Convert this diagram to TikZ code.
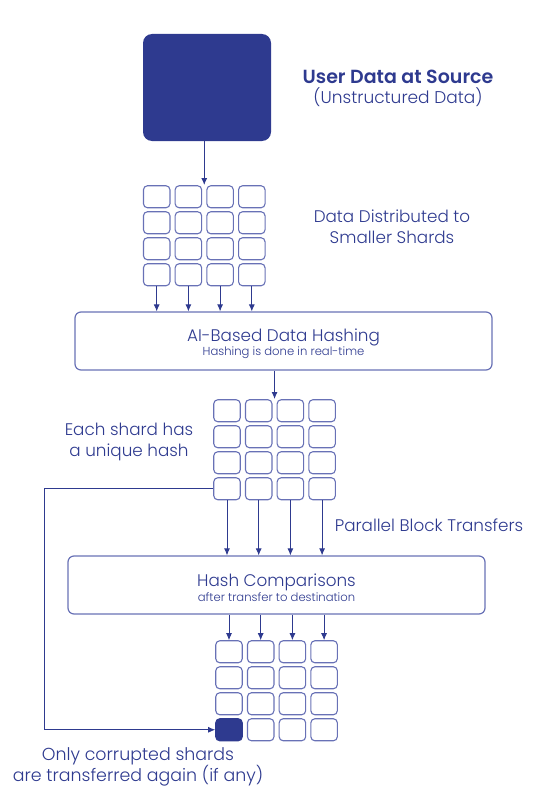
\documentclass[tikz,border=0pt]{standalone}
\usepackage{fontspec}
\setmainfont{Poppins}[UprightFont=* Light, BoldFont=* SemiBold]
\usetikzlibrary{matrix, arrows.meta, positioning}
\definecolor{navy}{RGB}{46,58,143}
\definecolor{edgeblue}{RGB}{104,113,182}

\tikzset{
  shard/.style={draw=edgeblue, line width=1.1pt, rounded corners=4pt,
    minimum width=26.5pt, minimum height=22pt, inner sep=0pt},
  bad/.style={fill=navy, draw=navy},
  shardgrid/.style={matrix of nodes, nodes={shard}, nodes in empty cells,
    column sep=4.1pt, row sep=2.9pt, anchor=north west, inner sep=0pt},
  stage/.style={draw=edgeblue, line width=1.2pt, rounded corners=6pt,
    minimum width=417pt, minimum height=58pt},
  heading/.style={text=navy, font=\fontsize{16.8}{19}\selectfont},
  subhead/.style={text=navy, font=\fontsize{11.6}{13}\selectfont},
  flow/.style={-{Latex[length=7pt,width=6pt]}, draw=navy, line width=0.9pt},
  note/.style={text=navy, align=center, font=\fontsize{16.8}{21}\selectfont},
}

\begin{document}
\begin{tikzpicture}[x=1pt, y=-1pt]
\useasboundingbox (0,0) rectangle (545,800);

% source block and its caption
\node[fill=navy, rounded corners=9pt, minimum width=128pt, minimum height=107pt] (src) at (207,87.5) {};
\node[note, font=\bfseries\fontsize{19}{21}\selectfont] (title) at (398,77) {User Data at Source};
\node[note, font=\fontsize{17}{19}\selectfont] (subtitle) at (398,97) {(Unstructured Data)};

% shards before hashing
\matrix (g1) [shardgrid] at (142.7,185) {
 & & & \\
 & & & \\
 & & & \\
 & & & \\
};
\node[note] (split) at (392,227) {Data Distributed to\\Smaller Shards};
\draw[flow] (src.south -| g1.north) -- (g1.north);

% hashing stage
\node[stage] (ai) at (283.5,341) {};
\node[heading] (ai-head) at ([yshift=4pt]ai.center) {AI-Based Data Hashing};
\node[subhead] (ai-sub) at ([yshift=-12pt]ai.center) {Hashing is done in real-time};
\foreach \c in {1,...,4}
  \draw[flow] (g1-4-\c.south) -- (g1-4-\c.south |- ai.north);

% hashed shards
\matrix (g2) [shardgrid] at (213,399) {
 & & & \\
 & & & \\
 & & & \\
 & & & \\
};
\node[note] (unique) at (129,442) {Each shard has\\a unique hash};
\draw[flow] (ai.south -| g2.north) -- (g2.north);

% comparison stage
\node[stage] (cmp) at (276.5,585) {};
\node[heading] (cmp-head) at ([yshift=3pt]cmp.center) {Hash Comparisons};
\node[subhead] (cmp-sub) at ([yshift=-12pt]cmp.center) {after transfer to destination};
\foreach \c in {1,...,4}
  \draw[flow] (g2-4-\c.south) -- (g2-4-\c.south |- cmp.north);
\node[note] (parallel) at (429,525) {Parallel Block Transfers};

% shards at destination
\matrix (g3) [shardgrid] at (215,640) {
 & & & \\
 & & & \\
 & & & \\
 |[bad]| & & & \\
};
\foreach \c in {1,...,4}
  \draw[flow] (cmp.south -| g3-1-\c.north) -- (g3-1-\c.north);

% resend path
\coordinate (back) at (44,0);
\draw[flow] (g2-4-1.west) -- (g2-4-1.west -| back) |- (g3-4-1.west);
\node[note, font=\fontsize{17.4}{21}\selectfont] (again) at (138,767) {Only corrupted shards\\are transferred again (if any)};
\end{tikzpicture}
\end{document}
